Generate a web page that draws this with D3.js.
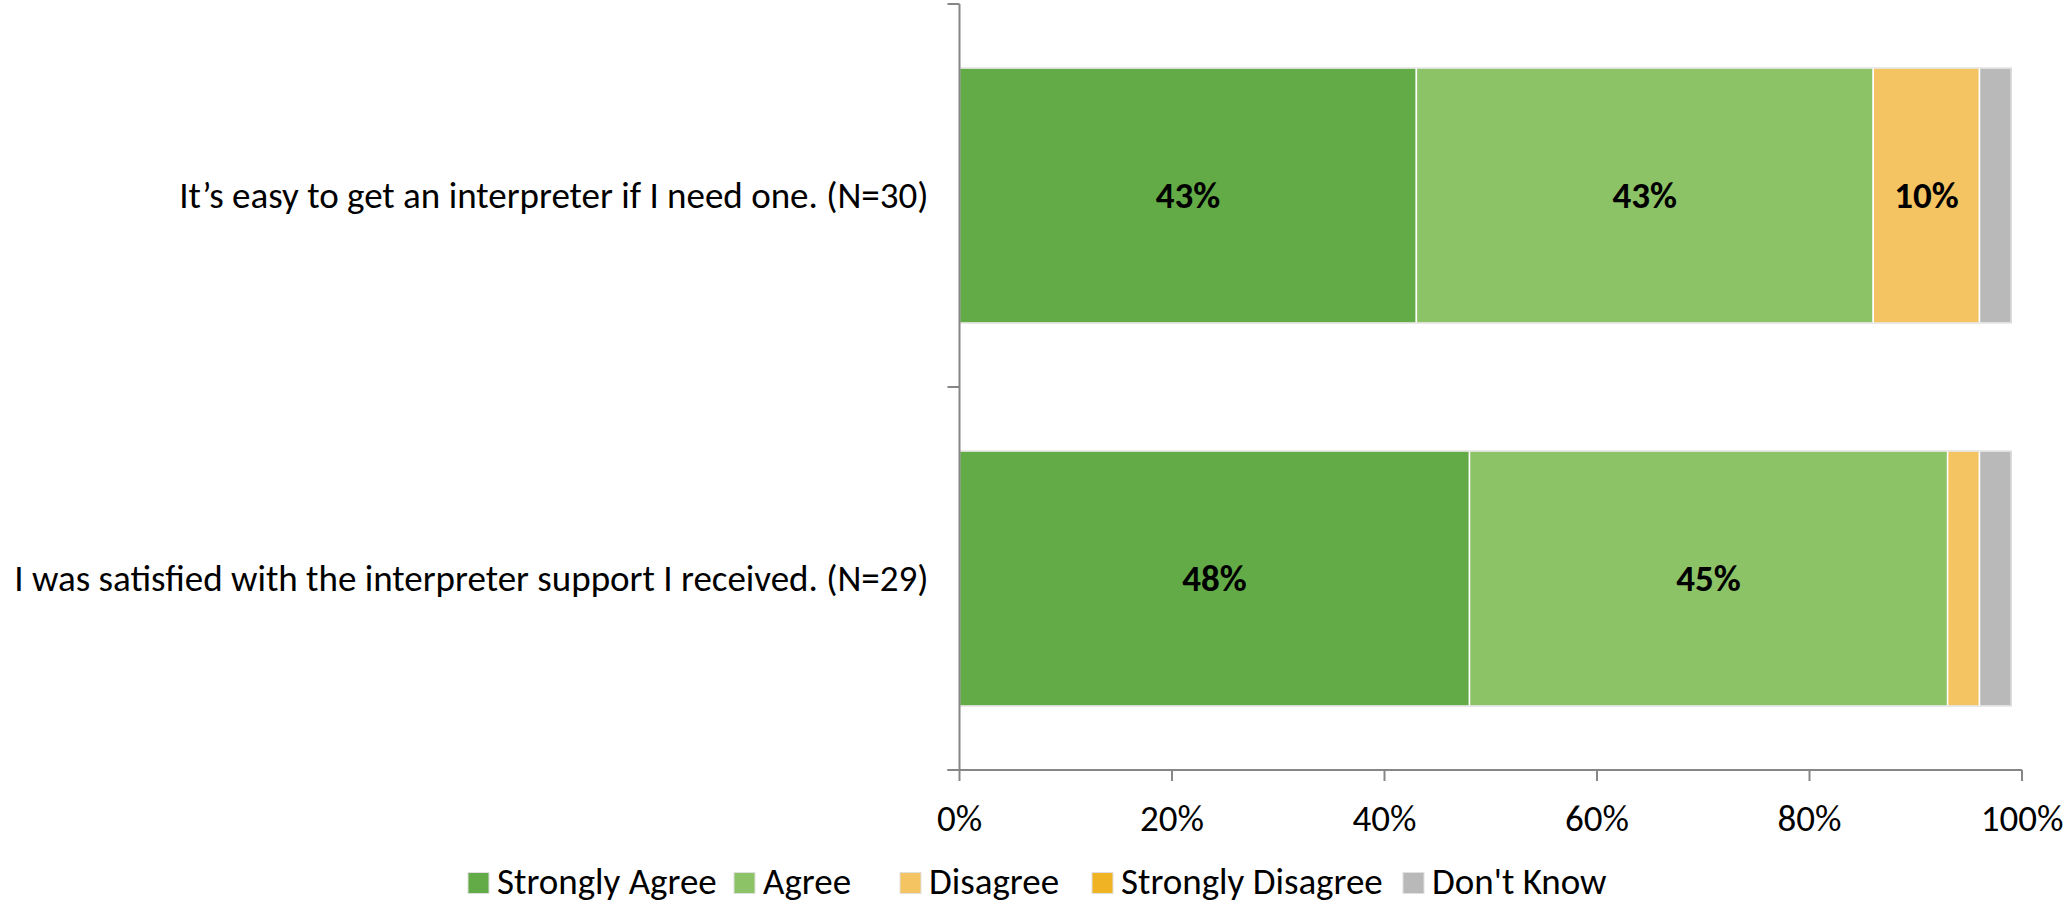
<!DOCTYPE html>
<html><head><meta charset="utf-8">
<script src="https://cdn.jsdelivr.net/npm/d3@7"></script>
<style>
html,body{margin:0;padding:0;background:#fff;}
svg{display:block;}
text{font-family:Carlito,"Open Sans","Liberation Sans",sans-serif;}
</style></head>
<body>
<svg id="chart" width="2066" height="904"></svg>
<script>
const categories = ["It\u2019s easy to get an interpreter if I need one. (N=30)",
                    "I was satisfied with the interpreter support I received. (N=29)"];
const seriesNames = ["Strongly Agree","Agree","Disagree","Strongly Disagree","Don't Know"];
const stronglyAgree = [43, 48];
const agree = [43, 45];
const disagree = [10, 3];
const stronglyDisagree = [0, 0];
const dontKnow = [3, 3];
const xTicks = [0, 20, 40, 60, 80, 100];
const colors = ["#62ab46","#8dc367","#f5c462","#f0b323","#b9b9b9"];

(function(){
const series = [stronglyAgree, agree, disagree, stronglyDisagree, dontKnow];
const rows = categories.map((c,i)=>{
  const r = {cat:c};
  seriesNames.forEach((s,j)=>r[s]=series[j][i]);
  return r;
});
const stack = d3.stack().keys(seriesNames)(rows);

const svg = d3.select("#chart");
const axisX = 959.5, plotRight = 2022, plotTop = 4, plotBottom = 770;
const fs = 37;
const x = d3.scaleLinear().domain([0,100]).range([axisX, plotRight]);
const y = d3.scaleBand().domain(categories).range([plotTop, plotBottom]).paddingInner(0.334).paddingOuter(0.167);
const axisColor = "#868686";

const g = svg.append("g");
stack.forEach((layer,j)=>{
  g.selectAll(null).data(layer).enter().append("rect")
    .attr("x", d=>x(d[0]))
    .attr("y", d=>y(d.data.cat))
    .attr("width", d=>Math.max(0, x(d[1])-x(d[0])))
    .attr("height", y.bandwidth())
    .attr("fill", colors[j])
    .attr("stroke", "#ffffff")
    .attr("stroke-width", 1.5);
});
g.selectAll(null).data(rows).enter().append("rect")
  .attr("x", x(0))
  .attr("y", d=>y(d.cat))
  .attr("width", d=>x(seriesNames.reduce((a,s)=>a+d[s],0))-x(0))
  .attr("height", y.bandwidth())
  .attr("fill","none").attr("stroke","#d6d6d6").attr("stroke-width",1);

stack.forEach((layer,j)=>{
  g.selectAll(null).data(layer.filter(d=>d[1]-d[0]>=10)).enter().append("text")
    .attr("x", d=>(x(d[0])+x(d[1]))/2)
    .attr("y", d=>y(d.data.cat)+y.bandwidth()/2)
    .attr("dy","0.35em")
    .attr("text-anchor","middle")
    .attr("font-size",fs).attr("font-weight","bold").attr("fill","#000")
    .text(d=>Math.round(d[1]-d[0])+"%");
});

const yAxis = svg.append("g").attr("transform",`translate(${axisX},0)`);
yAxis.append("line").attr("x1",0).attr("x2",0).attr("y1",plotTop).attr("y2",plotBottom)
  .attr("stroke",axisColor).attr("stroke-width",2);
const bounds = [plotTop, (y(categories[0])+y.bandwidth()+y(categories[1]))/2, plotBottom];
yAxis.selectAll(null).data(bounds).enter().append("line")
  .attr("x1",-12).attr("x2",0).attr("y1",d=>d).attr("y2",d=>d)
  .attr("stroke",axisColor).attr("stroke-width",2);
yAxis.selectAll(null).data(categories).enter().append("text")
  .attr("x",-31).attr("y",d=>y(d)+y.bandwidth()/2).attr("dy","0.35em")
  .attr("text-anchor","end").attr("font-size",fs).attr("fill","#000")
  .text(d=>d);

const xAxis = svg.append("g").attr("transform",`translate(0,${plotBottom})`);
xAxis.append("line").attr("x1",axisX-12).attr("x2",plotRight).attr("y1",0).attr("y2",0)
  .attr("stroke",axisColor).attr("stroke-width",2);
xAxis.selectAll(null).data(xTicks).enter().append("line")
  .attr("x1",d=>x(d)).attr("x2",d=>x(d)).attr("y1",0).attr("y2",11)
  .attr("stroke",axisColor).attr("stroke-width",2);
xAxis.selectAll(null).data(xTicks).enter().append("text")
  .attr("x",d=>x(d)).attr("y",48).attr("dy","0.35em")
  .attr("text-anchor","middle").attr("font-size",fs).attr("fill","#000")
  .text(d=>d+"%");

const legendX = [468, 734, 900, 1092, 1403];
const legend = svg.append("g").attr("transform","translate(0,881)");
seriesNames.forEach((s,j)=>{
  legend.append("rect").attr("x",legendX[j]).attr("y",-8.5).attr("width",21).attr("height",21)
    .attr("fill",colors[j]).attr("stroke","#e0e0e0").attr("stroke-width",1);
  legend.append("text").attr("x",legendX[j]+29).attr("y",0).attr("dy","0.35em")
    .attr("font-size",fs).attr("fill","#000").text(s);
});
})();
</script>
</body></html>
